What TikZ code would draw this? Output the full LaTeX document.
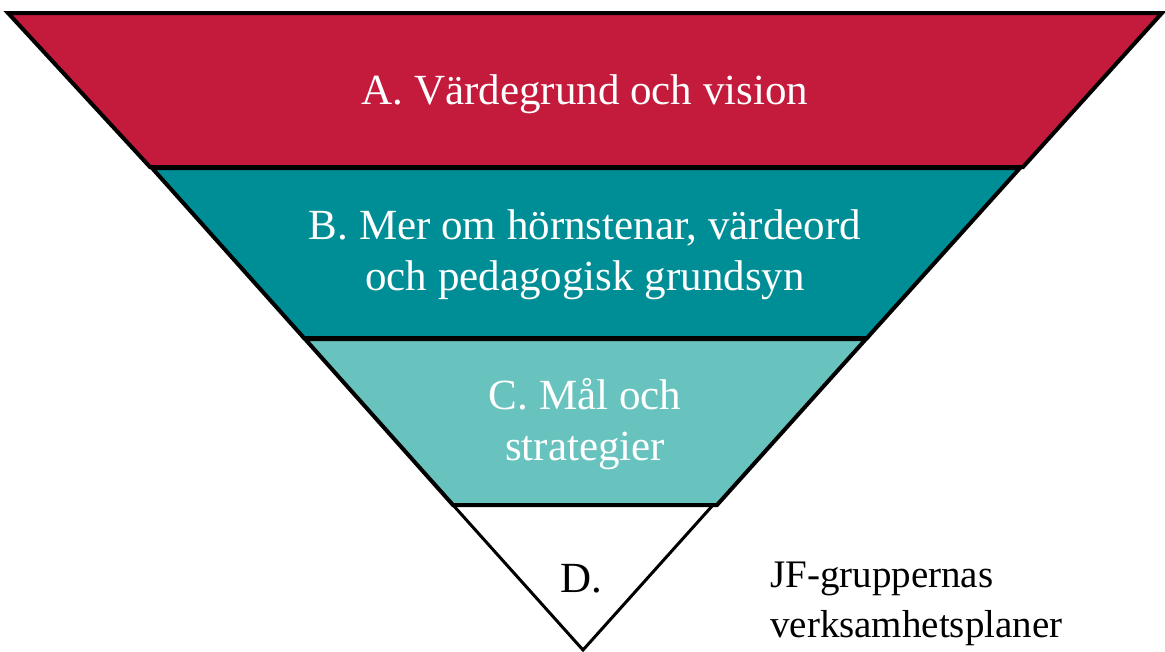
\documentclass[tikz,border=0pt]{standalone}
\usepackage{fontspec}
\setmainfont{Liberation Serif}
\definecolor{bandA}{RGB}{196,26,60}
\definecolor{bandB}{RGB}{0,142,150}
\definecolor{bandC}{RGB}{104,195,191}
\begin{document}
\begin{tikzpicture}[x=1pt,y=-1pt,
  band/.style={draw=black,line width=4pt,line join=miter},
  lab/.style={text=white,font=\fontsize{43}{51}\selectfont,align=center,inner sep=0pt},
  dlab/.style={text=black,font=\fontsize{39}{50}\selectfont,align=left,inner sep=0pt}]
\useasboundingbox (0,0) rectangle (1165,651);
% bands
\fill[bandA] (8,13) -- (1162,13) -- (1023,167) -- (150,167) -- cycle;
\draw[band] (8,13) -- (1162,13) -- (1023,167) -- (150,167) -- cycle;
\fill[bandB] (152,168) -- (1020,168) -- (867,338) -- (304,338) -- cycle;
\draw[band] (152,168) -- (1020,168) -- (867,338) -- (304,338) -- cycle;
\fill[bandC] (305,339) -- (866,339) -- (717,505) -- (453,505) -- cycle;
\draw[band] (305,339) -- (866,339) -- (717,505) -- (453,505) -- cycle;
\draw[band,line width=3pt] (453,505) -- (713,505) -- (583,650) -- cycle;
% labels
\node[lab] (a) at (585,94) {A. Värdegrund och vision};
\node[lab] (b) at (585,255) {B. Mer om hörnstenar, värdeord\\och pedagogisk grundsyn};
\node[lab] (c) at (585,424) {C. Mål och\\strategier};
\node[dlab,font=\fontsize{43}{50}\selectfont] (d) at (581,579) {D.};
\node[dlab,anchor=west] (e) at (770,604) {JF-gruppernas\\verksamhetsplaner};
\end{tikzpicture}
\end{document}
